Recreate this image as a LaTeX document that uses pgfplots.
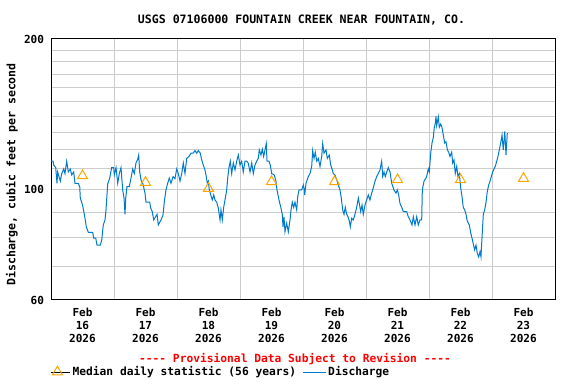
\documentclass[border=0pt]{standalone}
\usepackage{fontspec}
\setmonofont{DejaVu Sans Mono}
\usepackage{pgfplots}
\pgfplotsset{compat=1.18}
\definecolor{qblue}{RGB}{0,122,204}
\definecolor{medc}{RGB}{255,165,0}
\definecolor{gridc}{RGB}{204,204,204}
\newcommand{\uf}{\ttfamily\bfseries\fontsize{11.6}{13}\selectfont}
\newcommand{\ul}{\ttfamily\bfseries\fontsize{11.3}{13}\selectfont}
\newcommand{\ut}{\ttfamily\bfseries\fontsize{11.1}{13}\selectfont}
\pgfplotsset{
  medleg/.style={legend image code/.code={\path (0bp,0bp) -- (19bp,0bp); \draw[##1] plot coordinates {(6bp,0bp)};}},
  lineleg/.style={legend image code/.code={\draw[##1] (0bp,0bp) -- (23bp,0bp);}},
}
\begin{document}
\begin{tikzpicture}
\path[use as bounding box] (0bp,0bp) rectangle (576bp,-384bp);
\begin{axis}[
  at={(51bp,-300bp)}, anchor=south west,
  scale only axis, width=504bp, height=261bp,
  xmin=0, xmax=8,
  ymode=log, ymin=60, ymax=200,
  axis line style={line width=1bp, black},
  xtick={0.5,1.5,2.5,3.5,4.5,5.5,6.5,7.5},
  xticklabels={{Feb\\16\\2026},{Feb\\17\\2026},{Feb\\18\\2026},{Feb\\19\\2026},{Feb\\20\\2026},{Feb\\21\\2026},{Feb\\22\\2026},{Feb\\23\\2026}},
  minor xtick={1,2,3,4,5,6,7},
  xmajorgrids=false, xminorgrids=true,
  ytick={60,100,200}, yticklabels={60,100,200},
  minor ytick={70,80,90,110,120,130,140,150,160,170,180,190},
  ymajorgrids=true, yminorgrids=true,
  major grid style={gridc, line width=1bp},
  minor grid style={gridc, line width=1bp},
  major tick length=0pt, minor tick length=0pt,
  /pgf/number format/assume math mode=true,
  tick label style={font=\ut},
  xticklabel style={align=center, yshift=-5bp},
  yticklabel style={xshift=-3.5bp},
  title={USGS 07106000 FOUNTAIN CREEK NEAR FOUNTAIN, CO.},
  every axis title shift=0pt,
  title style={font=\uf, at={(axis description cs:0.497,1.0728)}, anchor=center, yshift=0pt},
  ylabel={Discharge, cubic feet per second},
  ylabel style={font=\uf, at={(axis description cs:-0.0774,0.481)}, anchor=center},
  legend style={at={(axis description cs:0,-0.276)}, anchor=west, draw=none, fill=none,
    font=\ul, inner sep=0pt, legend columns=2,
    /tikz/every even column/.append style={column sep=4bp}},
  legend cell align=left,
]
\addplot[only marks, mark=triangle, mark size=5.8bp, mark options={draw=medc, line width=1bp, fill=none}, medleg]
  coordinates {(0.5,106.4)(1.5,103.2)(2.5,100.4)(3.5,103.5)(4.5,103.5)(5.5,104.5)(6.5,104.5)(7.5,105.1)};
\addlegendentry{Median daily statistic (56 years)}
\addplot[qblue, line width=1bp, no marks, lineleg]
  coordinates {(0.000,113.8)(0.032,113.8)(0.043,111.8)(0.075,110.5)(0.095,102.8)(0.106,108.3)(0.148,103.8)(0.170,107.5)(0.202,109.8)(0.222,107.5)(0.249,113.8)(0.275,108.3)(0.306,109.8)(0.329,106.8)(0.360,108.3)(0.381,102.8)(0.433,102.8)(0.456,101.2)(0.465,96.0)(0.487,94.2)(0.508,92.0)(0.529,89.1)(0.544,86.8)(0.560,84.1)(0.592,82.0)(0.662,82.0)(0.678,79.8)(0.710,79.8)(0.730,77.3)(0.783,77.3)(0.805,79.1)(0.830,84.8)(0.857,86.8)(0.873,90.9)(0.900,102.5)(0.932,105.3)(0.963,110.5)(0.995,110.5)(1.005,106.8)(1.032,110.5)(1.059,102.8)(1.084,107.5)(1.111,110.5)(1.138,99.7)(1.159,96.0)(1.175,89.1)(1.186,96.0)(1.206,101.2)(1.243,101.2)(1.270,105.3)(1.297,109.8)(1.322,107.5)(1.349,112.9)(1.376,114.8)(1.392,117.1)(1.408,108.3)(1.429,104.4)(1.460,102.5)(1.492,98.2)(1.508,94.2)(1.567,94.2)(1.583,91.6)(1.608,90.2)(1.630,86.8)(1.683,89.1)(1.703,84.8)(1.746,86.8)(1.778,88.8)(1.798,94.2)(1.825,99.7)(1.852,102.8)(1.878,105.3)(1.905,102.8)(1.937,106.0)(1.968,105.0)(1.995,109.8)(2.021,107.5)(2.048,103.8)(2.075,107.5)(2.100,112.9)(2.127,107.5)(2.154,115.3)(2.190,116.3)(2.222,118.1)(2.259,118.1)(2.286,119.5)(2.313,118.1)(2.338,119.5)(2.370,118.1)(2.392,114.5)(2.417,111.8)(2.444,109.3)(2.460,106.8)(2.481,102.8)(2.497,103.8)(2.513,99.7)(2.540,97.0)(2.560,95.2)(2.583,97.4)(2.603,95.2)(2.630,94.2)(2.656,91.6)(2.683,86.8)(2.698,90.9)(2.719,86.8)(2.741,92.0)(2.762,95.2)(2.789,99.7)(2.805,105.3)(2.825,110.5)(2.846,113.8)(2.868,107.5)(2.894,112.9)(2.921,109.3)(2.948,113.8)(2.973,117.1)(3.000,111.8)(3.027,113.8)(3.052,108.3)(3.079,113.8)(3.106,113.8)(3.130,112.9)(3.159,108.3)(3.186,112.9)(3.211,107.5)(3.238,111.8)(3.265,113.8)(3.290,115.3)(3.306,119.9)(3.333,117.1)(3.354,120.3)(3.376,116.3)(3.397,119.9)(3.417,123.4)(3.429,113.8)(3.460,113.8)(3.481,111.8)(3.503,107.5)(3.544,106.8)(3.571,103.8)(3.587,99.7)(3.619,95.2)(3.651,91.6)(3.671,89.1)(3.683,84.1)(3.698,88.1)(3.714,82.2)(3.741,85.5)(3.767,82.2)(3.794,86.8)(3.810,90.9)(3.830,94.2)(3.852,92.0)(3.873,94.2)(3.900,90.9)(3.916,96.6)(3.937,99.7)(3.979,99.7)(4.005,102.0)(4.020,99.7)(4.027,97.4)(4.048,102.8)(4.084,106.0)(4.111,107.5)(4.138,111.1)(4.154,119.5)(4.175,115.3)(4.195,118.6)(4.218,113.8)(4.243,115.3)(4.270,111.1)(4.297,116.3)(4.313,123.4)(4.333,118.1)(4.365,119.9)(4.386,115.3)(4.417,117.1)(4.440,111.8)(4.460,109.8)(4.481,107.5)(4.508,106.8)(4.535,104.4)(4.560,102.0)(4.587,99.7)(4.608,96.0)(4.630,90.9)(4.651,89.1)(4.671,92.0)(4.694,89.1)(4.714,88.1)(4.735,86.3)(4.751,84.1)(4.773,87.5)(4.798,86.8)(4.825,89.1)(4.852,92.0)(4.878,96.0)(4.894,93.6)(4.916,90.2)(4.937,93.0)(4.957,89.1)(4.984,93.0)(5.011,95.2)(5.037,97.4)(5.063,95.2)(5.090,98.2)(5.116,100.7)(5.143,103.8)(5.170,106.0)(5.195,107.5)(5.222,109.3)(5.249,113.8)(5.265,106.0)(5.286,108.3)(5.306,106.0)(5.329,108.3)(5.354,110.5)(5.381,108.3)(5.408,102.8)(5.444,99.7)(5.476,98.2)(5.497,99.7)(5.519,97.4)(5.540,93.6)(5.567,92.0)(5.592,90.2)(5.646,90.2)(5.671,88.1)(5.698,86.8)(5.730,84.8)(5.751,88.1)(5.778,84.8)(5.805,88.1)(5.830,84.8)(5.857,86.8)(5.884,86.8)(5.894,99.7)(5.921,103.8)(5.952,105.3)(5.968,106.8)(5.989,109.8)(6.005,108.3)(6.027,118.1)(6.048,123.8)(6.068,126.8)(6.084,133.0)(6.100,135.5)(6.111,140.0)(6.122,134.2)(6.148,139.6)(6.163,133.0)(6.186,135.1)(6.206,133.0)(6.227,128.4)(6.249,123.8)(6.270,124.5)(6.292,119.9)(6.313,118.6)(6.333,116.3)(6.360,118.6)(6.376,112.9)(6.397,114.5)(6.417,107.5)(6.440,111.1)(6.460,106.0)(6.481,107.5)(6.503,100.7)(6.524,96.6)(6.544,92.0)(6.567,90.9)(6.587,89.1)(6.608,86.3)(6.640,84.8)(6.662,81.8)(6.683,79.8)(6.703,77.7)(6.725,75.6)(6.746,77.3)(6.767,74.4)(6.789,73.2)(6.810,75.0)(6.825,73.2)(6.841,79.8)(6.862,89.1)(6.884,90.9)(6.905,94.2)(6.925,98.9)(6.948,102.0)(6.968,103.8)(6.989,106.0)(7.011,108.3)(7.032,109.8)(7.052,111.1)(7.075,113.8)(7.095,116.3)(7.116,119.9)(7.138,123.8)(7.159,128.4)(7.179,119.9)(7.203,130.5)(7.222,117.1)(7.243,129.5)};
\addlegendentry{Discharge}
\end{axis}
\node[font=\ul, text=red] at (295bp,-359bp) {{-}{-}{-}{-} Provisional Data Subject to Revision {-}{-}{-}{-}};
\end{tikzpicture}
\end{document}
